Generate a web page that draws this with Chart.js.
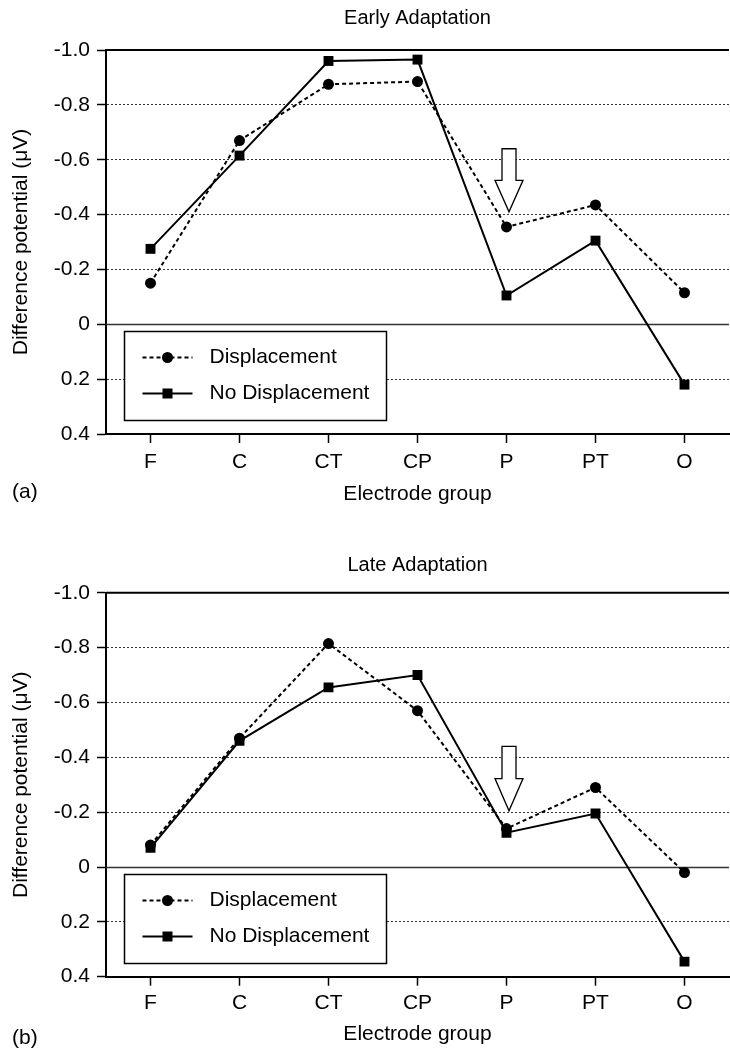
<!DOCTYPE html>
<html lang="en">
<head>
    <meta charset="UTF-8">
    <title>Early / Late Adaptation</title>
    <script src="https://cdn.jsdelivr.net/npm/chart.js@4.4.1/dist/chart.umd.min.js"></script>
    <style>
        html, body { margin: 0; padding: 0; background: #fff; overflow: hidden; }
        .panel { position: absolute; left: 0; }
    </style>
</head>
<body>
    <canvas id="chartEarly" class="panel" width="736" height="525" style="top:0"></canvas>
    <canvas id="chartLate" class="panel" width="736" height="524" style="top:525px"></canvas>

    <script>
// electrode groups (x axis)
var electrodeGroups = ["F", "C", "CT", "CP", "P", "PT", "O"];

// y axis ticks (axis is reversed: negative up)
var yMin = -1.0;
var yMax = 0.4;
var yStep = 0.2;

// Early adaptation values (µV)
var earlyDisplacement   = [-0.15, -0.67, -0.875, -0.885, -0.355, -0.435, -0.115];
var earlyNoDisplacement = [-0.275, -0.615, -0.96, -0.965, -0.105, -0.305, 0.22];

// Late adaptation values (µV)
var lateDisplacement   = [-0.08, -0.47, -0.815, -0.57, -0.14, -0.29, 0.02];
var lateNoDisplacement = [-0.07, -0.46, -0.655, -0.70, -0.125, -0.195, 0.345];

// arrows pointing at P : [top value, tip value]
var earlyArrow = [-0.64, -0.41];
var lateArrow  = [-0.44, -0.205];

var FONT = "'Liberation Sans', Arial, Helvetica, sans-serif";

function isNear(a, b) { return Math.abs(a - b) < 1e-9; }

// solid lines at top (-1.0) and at zero
var refLinesPlugin = {
    id: "refLines",
    beforeDatasetsDraw: function(chart) {
        var ctx = chart.ctx, area = chart.chartArea, y = chart.scales.y;
        ctx.save();
        ctx.strokeStyle = "#000";
        ctx.lineWidth = 2;
        ctx.beginPath();
        ctx.moveTo(area.left, area.top);
        ctx.lineTo(area.right, area.top);
        ctx.stroke();
        var y0 = Math.round(y.getPixelForValue(0)) + 0.5;
        ctx.strokeStyle = "#333";
        ctx.lineWidth = 1.5;
        ctx.beginPath();
        ctx.moveTo(area.left, y0);
        ctx.lineTo(area.right, y0);
        ctx.stroke();
        ctx.restore();
    }
};

// hollow arrow + legend box + panel letter
var extrasPlugin = {
    id: "extras",
    afterDraw: function(chart, args, opts) {
        var ctx = chart.ctx, area = chart.chartArea;
        var xs = chart.scales.x, ys = chart.scales.y;

        // arrow
        var ax = xs.getPixelForValue(electrodeGroups.indexOf(opts.arrowAt)) + 2.5;
        var yTop = ys.getPixelForValue(opts.arrow[0]);
        var yTip = ys.getPixelForValue(opts.arrow[1]);
        var yHead = yTop + (yTip - yTop) * 0.5;
        ctx.save();
        ctx.beginPath();
        ctx.moveTo(ax - 7, yTop);
        ctx.lineTo(ax + 7, yTop);
        ctx.lineTo(ax + 7, yHead);
        ctx.lineTo(ax + 14, yHead);
        ctx.lineTo(ax, yTip);
        ctx.lineTo(ax - 14, yHead);
        ctx.lineTo(ax - 7, yHead);
        ctx.closePath();
        ctx.fillStyle = "#fff";
        ctx.fill();
        ctx.strokeStyle = "#000";
        ctx.lineWidth = 1.3;
        ctx.stroke();

        // legend box
        var bx = area.left + 18.5;
        var by = Math.round(ys.getPixelForValue(0)) + 7.5;
        var bw = 262, bh = 89;
        ctx.fillStyle = "#fff";
        ctx.fillRect(bx, by, bw, bh);
        ctx.strokeStyle = "#000";
        ctx.lineWidth = 1.5;
        ctx.strokeRect(bx, by, bw, bh);

        var rows = [by + 26, by + 62];
        chart.data.datasets.forEach(function(ds, i) {
            var ry = rows[i];
            ctx.beginPath();
            ctx.setLineDash(ds.borderDash || []);
            ctx.lineWidth = ds.borderWidth;
            ctx.strokeStyle = ds.borderColor;
            ctx.moveTo(bx + 18, ry);
            ctx.lineTo(bx + 68, ry);
            ctx.stroke();
            ctx.setLineDash([]);
            ctx.fillStyle = "#000";
            if (ds.pointStyle === "rect") {
                ctx.fillRect(bx + 43 - 5, ry - 5, 10, 10);
            } else {
                ctx.beginPath();
                ctx.arc(bx + 43, ry, 5.5, 0, Math.PI * 2);
                ctx.fill();
            }
            ctx.font = "21px " + FONT;
            ctx.textBaseline = "middle";
            ctx.textAlign = "left";
            ctx.fillText(ds.label, bx + 85, ry);
        });

        // panel letter
        ctx.font = "21px " + FONT;
        ctx.textBaseline = "middle";
        ctx.textAlign = "left";
        ctx.fillStyle = "#000";
        ctx.fillText(opts.letter, 12, opts.letterY);
        ctx.restore();
    }
};

function makeChart(canvasId, title, disp, noDisp, arrow, lay) {
    var ctx = document.getElementById(canvasId).getContext("2d");
    return new Chart(ctx, {
        type: "line",
        data: {
            labels: electrodeGroups,
            datasets: [{
                label: "Displacement",
                data: disp,
                borderColor: "#000",
                backgroundColor: "#000",
                borderWidth: 2,
                borderDash: [4, 3],
                pointStyle: "circle",
                pointRadius: 5.5,
                pointBackgroundColor: "#000",
                pointBorderColor: "#000",
                pointBorderWidth: 0,
                tension: 0,
                fill: false
            }, {
                label: "No Displacement",
                data: noDisp,
                borderColor: "#000",
                backgroundColor: "#000",
                borderWidth: 2,
                pointStyle: "rect",
                pointRadius: 7,
                pointBackgroundColor: "#000",
                pointBorderColor: "#000",
                pointBorderWidth: 0,
                tension: 0,
                fill: false
            }]
        },
        options: {
            responsive: false,
            animation: false,
            devicePixelRatio: 1,
            layout: { padding: 0 },
            plugins: {
                legend: { display: false },
                tooltip: { enabled: false },
                title: {
                    display: true,
                    fullSize: false,
                    text: title,
                    color: "#000",
                    font: { family: FONT, size: 20, weight: "normal" },
                    padding: { top: lay.titleTop, bottom: lay.titleBottom }
                },
                extras: { arrowAt: "P", arrow: arrow, letter: lay.letter, letterY: lay.letterY }
            },
            scales: {
                x: {
                    offset: true,
                    grid: {
                        offset: false,
                        drawOnChartArea: false,
                        tickLength: 9,
                        tickColor: "#000",
                        tickWidth: 1.5
                    },
                    border: { display: true, color: "#000", width: 2 },
                    ticks: {
                        color: "#000",
                        padding: lay.xTickPad,
                        maxRotation: 0,
                        font: { family: FONT, size: 21 }
                    },
                    title: {
                        display: true,
                        text: "Electrode group",
                        color: "#000",
                        font: { family: FONT, size: 21 },
                        padding: { top: 0, bottom: lay.xTitlePad }
                    },
                    afterFit: function(scale) { scale.height = lay.xHeight; }
                },
                y: {
                    reverse: true,
                    min: yMin,
                    max: yMax,
                    grid: {
                        color: function(c) {
                            var v = c.tick ? c.tick.value : null;
                            if (v === null || isNear(v, 0) || isNear(v, yMin) || isNear(v, yMax)) return "rgba(0,0,0,0)";
                            return "#333";
                        },
                        lineWidth: 1,
                        tickLength: 9,
                        tickColor: "#000",
                        tickWidth: 1.5,
                        tickBorderDash: []
                    },
                    border: { display: true, color: "#000", width: 2, dash: [2, 2] },
                    ticks: {
                        stepSize: yStep,
                        color: "#000",
                        padding: 7,
                        font: { family: FONT, size: 21 },
                        callback: function(v) {
                            var r = Math.round(v * 10) / 10;
                            return r === 0 ? "0" : r.toFixed(1);
                        }
                    },
                    title: {
                        display: true,
                        text: "Difference potential (\u03BCV)",
                        color: "#000",
                        font: { family: FONT, size: 21 },
                        padding: { top: 9, bottom: 0 }
                    },
                    afterFit: function(scale) { scale.width = 106; }
                }
            }
        },
        plugins: [refLinesPlugin, extrasPlugin]
    });
}

makeChart("chartEarly", "Early Adaptation", earlyDisplacement, earlyNoDisplacement, earlyArrow,
    { titleTop: 6, titleBottom: 20, xHeight: 91, xTickPad: 7, xTitlePad: 18, letter: "(a)", letterY: 492 });
makeChart("chartLate", "Late Adaptation", lateDisplacement, lateNoDisplacement, lateArrow,
    { titleTop: 28.3, titleBottom: 15.5, xHeight: 72.3, xTickPad: 5, xTitlePad: 2, letter: "(b)", letterY: 513 });
    </script>
</body>
</html>
